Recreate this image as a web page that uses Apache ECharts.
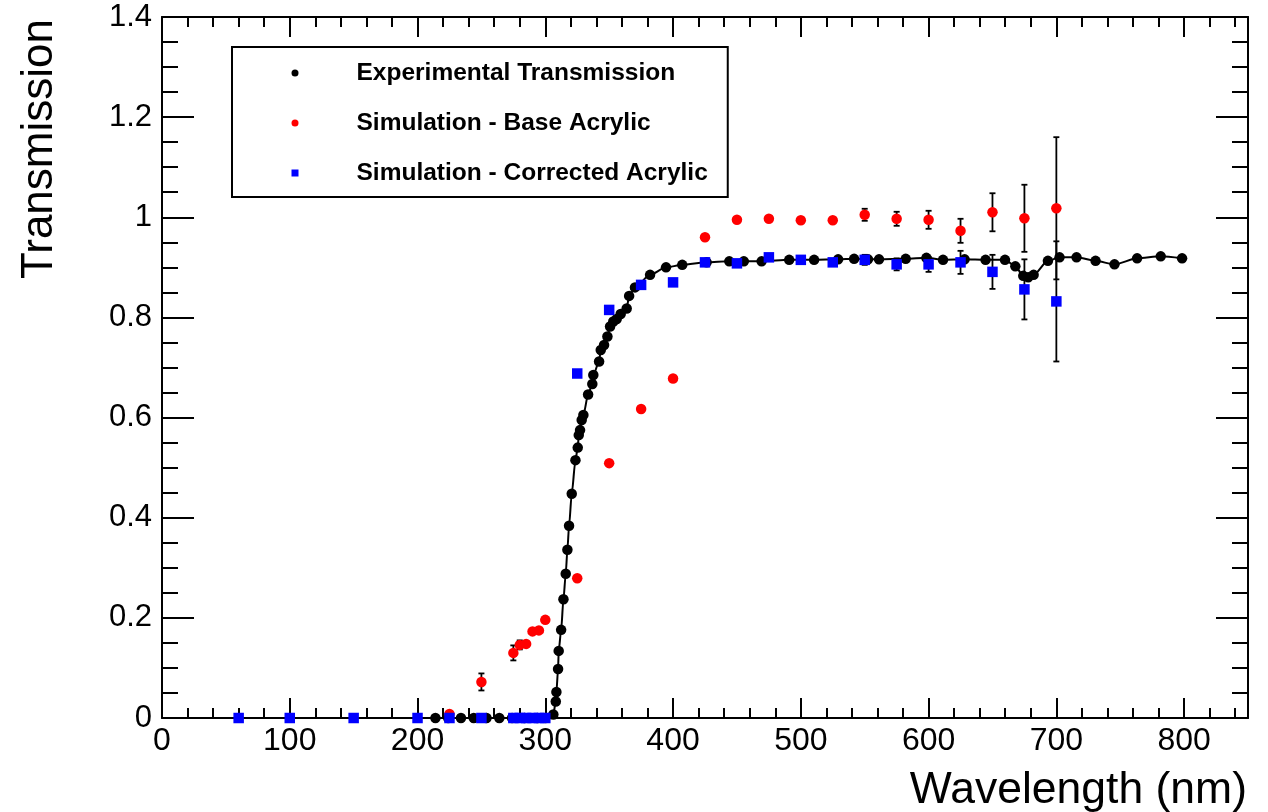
<!DOCTYPE html>
<html>
<head>
<meta charset="utf-8">
<script src="https://cdn.jsdelivr.net/npm/echarts@6/dist/echarts.min.js"></script>
<style>html,body{margin:0;padding:0;background:#fff;}#chart{width:1268px;height:812px;}</style>
</head>
<body>
<div id="chart"></div>
<script>
// Experimental transmission (wavelength nm, transmission)
var expX = [214,224,234,244,254,264,274,284,294,300,306.3,308.2,308.7,310.0,310.5,312.4,314.2,316.0,317.3,318.6,320.7,323.6,325.4,326.2,327.2,328.5,329.8,333.5,336.8,337.6,342.1,343.4,346.0,348.6,350.7,353.2,355.9,359.0,363.7,365.6,370.2,382.0,394.5,407.2,426.3,444.0,455.4,469.3,490.9,510.4,529.2,541.7,552.6,561.2,582.1,598.3,611.3,628.2,644.6,659.8,667.9,674.1,678.0,682.2,693.4,702.5,715.8,730.7,745.5,763.2,781.7,798.4];
var expY = [0,0,0,0,0,0,0,0,0,0,0.007,0.033,0.052,0.098,0.134,0.176,0.237,0.288,0.336,0.384,0.448,0.515,0.540,0.565,0.575,0.595,0.605,0.646,0.667,0.685,0.712,0.735,0.745,0.762,0.782,0.792,0.797,0.807,0.818,0.843,0.860,0.885,0.900,0.905,0.910,0.912,0.912,0.912,0.915,0.915,0.916,0.917,0.916,0.916,0.917,0.919,0.915,0.916,0.915,0.915,0.902,0.883,0.880,0.885,0.913,0.920,0.920,0.913,0.906,0.918,0.922,0.918];

// Simulation - Base Acrylic
var baseX = [225,250,275,280,285,290,295,300,325,350,375,400,425,450,475,500,525,550,575,600,625,650,675,700];
var baseY = [0.008,0.072,0.130,0.146,0.148,0.173,0.175,0.196,0.279,0.509,0.617,0.678,0.960,0.995,0.997,0.994,0.994,1.005,0.997,0.995,0.973,1.010,0.998,1.018];
var baseErr = [0,0.017,0.015,0.009,0,0,0,0,0,0,0,0,0,0,0,0,0,0.012,0.014,0.018,0.024,0.038,0.067,0.142];

// Simulation - Corrected Acrylic
var corrX = [60,100,150,200,225,250,275,280,285,290,295,300,325,350,375,400,425,450,475,500,525,550,575,600,625,650,675,700];
var corrY = [0,0,0,0,0,0,0,0,0,0,0,0,0.688,0.815,0.865,0.870,0.910,0.908,0.920,0.915,0.910,0.915,0.906,0.906,0.910,0.891,0.856,0.832];
var corrErr = [0,0,0,0,0,0,0,0,0,0,0,0,0,0,0,0,0,0,0,0,0,0.010,0.012,0.015,0.023,0.034,0.060,0.120];

var seriesNames = ['Experimental Transmission','Simulation - Base Acrylic','Simulation - Corrected Acrylic'];
var xTitle = 'Wavelength (nm)';
var yTitle = 'Transmission';

var FONT = 'Liberation Sans, Arial, sans-serif';

function zip(a,b){ return a.map(function(v,i){ return [v,b[i]]; }); }
function zip3(a,b,c){ var r=[]; a.forEach(function(v,i){ if(c[i]>0) r.push([v,b[i],c[i]]); }); return r; }

function errRender(params, api){
  var x = api.value(0), y = api.value(1), e = api.value(2);
  var top = api.coord([x, y + e]);
  var bot = api.coord([x, y - e]);
  var w = 3;
  var st = {stroke:'#000', lineWidth:1.8};
  return {type:'group', children:[
    {type:'line', shape:{x1:top[0],y1:top[1],x2:bot[0],y2:bot[1]}, style:st},
    {type:'line', shape:{x1:top[0]-w,y1:top[1],x2:top[0]+w,y2:top[1]}, style:st},
    {type:'line', shape:{x1:bot[0]-w,y1:bot[1],x2:bot[0]+w,y2:bot[1]}, style:st}
  ]};
}

var axisLineStyle = {color:'#000', width:2};
function xAx(pos, interval, len, showLine, showLabel){
  return {type:'value', min:0, max:850, interval:interval, position:pos,
    axisLine:{show:showLine, onZero:false, lineStyle:axisLineStyle},
    axisTick:{show:true, inside:true, length:len, lineStyle:{color:'#000', width:2}},
    axisLabel:{show:showLabel, fontSize:32, color:'#000', fontFamily:FONT, margin:7, showMaxLabel:false},
    splitLine:{show:false}};
}
function yAx(pos, showLabel){
  return {type:'value', min:0, max:1.4, interval:0.2, position:pos,
    axisLine:{show:true, onZero:false, lineStyle:axisLineStyle},
    axisTick:{show:true, inside:true, length:32, lineStyle:{color:'#000', width:2}},
    minorTick:{show:true, splitNumber:4, length:16, lineStyle:{color:'#000', width:2}},
    axisLabel:{show:showLabel, fontSize:31, color:'#000', fontFamily:FONT, margin:10},
    splitLine:{show:false}, minorSplitLine:{show:false}};
}

var chart = echarts.init(document.getElementById('chart'), null, {renderer:'canvas'});
chart.setOption({
  animation:false,
  backgroundColor:'#fff',
  grid:{left:162, right:20, top:17, bottom:94},
  xAxis:[ xAx('bottom',100,20,true,true), xAx('bottom',20,10,false,false), xAx('top',100,20,true,false), xAx('top',20,10,false,false) ],
  yAxis:[ yAx('left',true), yAx('right',false) ],
  legend:{
    data:[{name:seriesNames[0], icon:'circle'},{name:seriesNames[1], icon:'circle'},{name:seriesNames[2], icon:'rect'}],
    orient:'vertical', left:232, top:47, itemWidth:7, itemHeight:7, itemGap:22,
    padding:[12,20,10,59.5], borderColor:'#000', borderWidth:2, backgroundColor:'#fff',
    selectedMode:false,
    textStyle:{fontSize:24.5, fontWeight:'bold', fontFamily:FONT, color:'#000', lineHeight:28, padding:[0,0,0,53]}
  },
  graphic:[
    {type:'text', x:40, y:279, rotation:Math.PI/2, style:{text:yTitle, fontSize:44, fontFamily:FONT, fill:'#000', align:'left', verticalAlign:'middle'}},
    {type:'text', x:1247, y:791, style:{text:xTitle, fontSize:44.5, fontFamily:FONT, fill:'#000', align:'right', verticalAlign:'middle'}}
  ],
  series:[
    {name:seriesNames[0], type:'line', data:zip(expX,expY), smooth:0.25, smoothMonotone:'x', showAllSymbol:true,
     symbol:'circle', symbolSize:10.5, itemStyle:{color:'#000', opacity:1}, lineStyle:{color:'#000', width:2}, z:2},
    {name:'baseErr', type:'custom', renderItem:errRender, data:zip3(baseX,baseY,baseErr), z:3, silent:true},
    {name:'corrErr', type:'custom', renderItem:errRender, data:zip3(corrX,corrY,corrErr), z:3, silent:true},
    {name:seriesNames[1], type:'scatter', data:zip(baseX,baseY), symbol:'circle', symbolSize:10.5, itemStyle:{color:'#ff0000', opacity:1}, z:4},
    {name:seriesNames[2], type:'scatter', data:zip(corrX,corrY), symbol:'rect', symbolSize:10.5, itemStyle:{color:'#0000ff', opacity:1}, z:5}
  ]
});
</script>
</body>
</html>
